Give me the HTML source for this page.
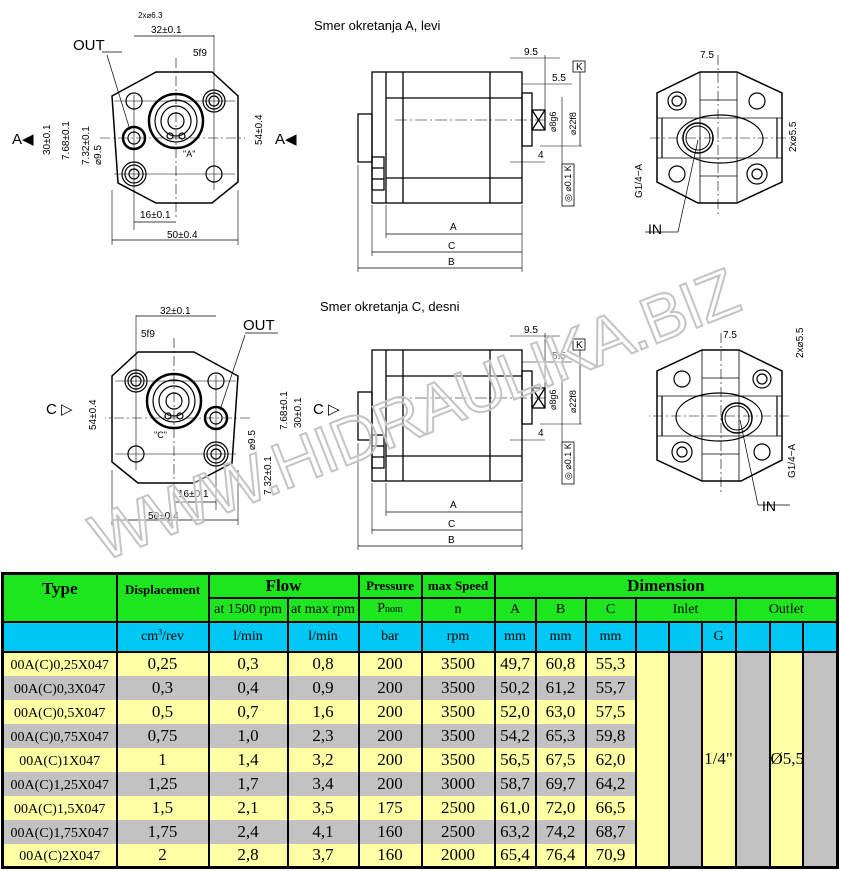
<!DOCTYPE html>
<html><head><meta charset="utf-8"><style>
body{margin:0;width:841px;height:871px;background:#fff;position:relative;overflow:hidden;font-family:"Liberation Serif",serif}
svg{position:absolute;left:0;top:0}
table{position:absolute;left:1px;top:572px;border-collapse:collapse;table-layout:fixed;width:837px;border:3px solid #000}
td{border-left:2px solid #000;border-right:2px solid #000;padding:0;text-align:center;white-space:nowrap;font-size:17px;line-height:20px;vertical-align:middle !important}
.g{background:#1ee61e;border:2px solid #000}
.b{background:#00c8f4;border:2px solid #000;color:#000}
.y{background:#ffffa6}.s{background:#c2c2c2}
.h{font-weight:bold;font-size:17px}
.sm{font-size:13px}
.t{font-size:14px;line-height:20px}
tr.y td.t,tr.s td.t{line-height:16px;padding-top:4px}
</style></head><body>
<svg width="841" height="572" viewBox="0 0 841 572" font-family="Liberation Sans, sans-serif" fill="none" stroke="#000">
<defs>
<g id="front" stroke-width="1.2">
 <polygon points="156,72 212,72 238,96 238,182 212,203 156,203 118,183 112,96" stroke-width="1.5"/>
 <circle cx="134" cy="101" r="8"/>
 <circle cx="214" cy="101" r="11"/><circle cx="214" cy="101" r="8"/><circle cx="214" cy="101" r="5"/>
 <circle cx="134" cy="174" r="12"/><circle cx="134" cy="174" r="9"/><circle cx="134" cy="174" r="5"/>
 <circle cx="214" cy="174" r="8"/>
 <circle cx="176" cy="121" r="27" stroke-width="2.5"/><circle cx="176" cy="121" r="21"/><circle cx="176" cy="121" r="15"/><circle cx="176" cy="121" r="8"/>
 <circle cx="170" cy="136" r="3"/><circle cx="182" cy="136" r="3"/>
 <line x1="176" y1="58" x2="176" y2="220" stroke-width=".6" stroke-dasharray="10 3 2 3"/>
 <line x1="100" y1="138" x2="245" y2="138" stroke-width=".6" stroke-dasharray="10 3 2 3"/>
 <line x1="114" y1="174" x2="235" y2="174" stroke-width=".6"/>
 <line x1="114" y1="101" x2="235" y2="101" stroke-width=".6"/>
 <line x1="134" y1="95" x2="134" y2="230" stroke-width=".6"/>
 <line x1="214" y1="35" x2="214" y2="190" stroke-width=".6"/>
 <line x1="112" y1="190" x2="112" y2="245" stroke-width=".6"/>
 <line x1="238" y1="190" x2="238" y2="245" stroke-width=".6"/>
 <line x1="112" y1="240" x2="238" y2="240" stroke-width=".8"/>
 <line x1="134" y1="222" x2="176" y2="222" stroke-width=".8"/>
 <line x1="134" y1="36" x2="214" y2="36" stroke-width=".8"/>
</g>
<g id="side" stroke-width="1.3">
 <rect x="372" y="72" width="150" height="131"/>
 <line x1="386" y1="72" x2="386" y2="203"/><line x1="403" y1="72" x2="403" y2="203"/><line x1="490" y1="72" x2="490" y2="203"/>
 <line x1="386" y1="98" x2="522" y2="98"/><line x1="386" y1="178" x2="522" y2="178"/>
 <rect x="358" y="114" width="14" height="48"/>
 <rect x="372" y="157" width="12" height="33"/><line x1="372" y1="168" x2="384" y2="168"/><line x1="372" y1="179" x2="384" y2="179"/>
 <rect x="522" y="93" width="10" height="53"/>
 <rect x="532" y="110" width="13" height="20"/><line x1="532" y1="110" x2="545" y2="130"/><line x1="545" y1="110" x2="532" y2="130"/>
 <line x1="395" y1="120" x2="545" y2="120" stroke-width=".6" stroke-dasharray="12 3 2 3"/>
 <line x1="386" y1="205" x2="386" y2="238" stroke-width=".6"/><line x1="372" y1="205" x2="372" y2="256" stroke-width=".6"/>
 <line x1="358" y1="165" x2="358" y2="272" stroke-width=".6"/><line x1="522" y1="205" x2="522" y2="272" stroke-width=".6"/>
 <line x1="386" y1="234" x2="522" y2="234" stroke-width=".7"/><line x1="372" y1="252" x2="522" y2="252" stroke-width=".7"/><line x1="358" y1="268" x2="522" y2="268" stroke-width=".7"/>
 <line x1="510" y1="58" x2="560" y2="58" stroke-width=".6"/><line x1="522" y1="84" x2="572" y2="84" stroke-width=".6"/>
 <line x1="545" y1="55" x2="545" y2="110" stroke-width=".6"/>
 <line x1="580" y1="72" x2="580" y2="146" stroke-width=".7"/><line x1="540" y1="146" x2="582" y2="146" stroke-width=".6"/>
 <line x1="562" y1="97" x2="562" y2="165" stroke-width=".6"/>
 <line x1="510" y1="162" x2="545" y2="162" stroke-width=".6"/>
 <rect x="573" y="61" width="12" height="11" stroke-width=".8"/>
 <rect x="562" y="164" width="12" height="42" stroke-width=".8"/>
</g>
<g id="rear" stroke-width="1.2">
 <polygon points="700,72 737,72 782,93 782,182 737,203 698,203 657,182 657,93" stroke-width="1.5"/>
 <circle cx="677" cy="101" r="9"/><circle cx="677" cy="101" r="5"/>
 <circle cx="757" cy="101" r="8"/>
 <circle cx="677" cy="174" r="8"/>
 <circle cx="757" cy="174" r="10"/><circle cx="757" cy="174" r="5"/>
 <ellipse cx="720" cy="139" rx="43" ry="24"/>
 <line x1="700" y1="72" x2="700" y2="203" stroke-width=".8"/><line x1="737" y1="72" x2="737" y2="203" stroke-width=".8"/>
 <line x1="662" y1="118" x2="662" y2="158"/><line x1="777" y1="118" x2="777" y2="158"/>
 <line x1="657" y1="118" x2="782" y2="118" stroke-width=".8"/><line x1="657" y1="158" x2="782" y2="158" stroke-width=".8"/>
 <line x1="700" y1="100" x2="737" y2="100" stroke-width=".8"/><line x1="700" y1="176" x2="737" y2="176" stroke-width=".8"/>
 <line x1="718" y1="55" x2="718" y2="215" stroke-width=".6" stroke-dasharray="10 3 2 3"/>
 <line x1="650" y1="138" x2="790" y2="138" stroke-width=".6" stroke-dasharray="10 3 2 3"/>
</g>
</defs>
<text x="314" y="30" fill="#000" stroke="none" font-size="13">Smer okretanja A, levi</text>
<text x="320" y="311" fill="#000" stroke="none" font-size="13">Smer okretanja C, desni</text>
<use href="#front"/>
<circle cx="134" cy="138" r="11" stroke-width="2.5"/><circle cx="134" cy="138" r="6" stroke-width="1.2"/>
<line x1="102" y1="52" x2="122" y2="52" stroke-width=".7"/><line x1="107" y1="55" x2="130" y2="130" stroke-width=".7"/>
<g fill="#000" stroke="none" font-size="10">
<text x="73" y="50" font-size="15">OUT</text>
<text x="151" y="33">32±0.1</text><text x="193" y="56">5f9</text><text x="138" y="18" font-size="8">2x⌀6.3</text>
<text x="140" y="218">16±0.1</text><text x="167" y="238">50±0.4</text>
<text x="12" y="144" font-size="15">A◀</text><text x="275" y="144" font-size="15">A◀</text>
<text transform="translate(50,155) rotate(-90)">30±0.1</text>
<text transform="translate(69,160) rotate(-90)">7.68±0.1</text>
<text transform="translate(89,165) rotate(-90)">7.32±0.1</text>
<text transform="translate(101,165) rotate(-90)">⌀9.5</text>
<text transform="translate(262,145) rotate(-90)">54±0.4</text>
<text x="183" y="157" font-size="9">"A"</text>
</g>
<g transform="translate(0,280)"><use href="#front" transform="translate(350,0) scale(-1,1)"/></g>
<circle cx="216" cy="418" r="11" stroke-width="2.5"/><circle cx="216" cy="418" r="6" stroke-width="1.2"/>
<line x1="245" y1="333" x2="278" y2="333" stroke-width=".7"/><line x1="245" y1="335" x2="220" y2="410" stroke-width=".7"/>
<g fill="#000" stroke="none" font-size="10">
<text x="243" y="330" font-size="15">OUT</text>
<text x="160" y="314">32±0.1</text><text x="141" y="337">5f9</text>
<text x="178" y="497">16±0.1</text><text x="148" y="519">50±0.4</text>
<text x="46" y="414" font-size="15">C ▷</text><text x="313" y="414" font-size="15">C ▷</text>
<text transform="translate(96,430) rotate(-90)">54±0.4</text>
<text transform="translate(301,428) rotate(-90)">30±0.1</text>
<text transform="translate(287,430) rotate(-90)">7.68±0.1</text>
<text transform="translate(271,495) rotate(-90)">7.32±0.1</text>
<text transform="translate(255,450) rotate(-90)">⌀9.5</text>
<text x="154" y="438" font-size="9">"C"</text>
</g>
<use href="#side"/>
<use href="#side" transform="translate(0,278)"/>
<g fill="#000" stroke="none" font-size="10">
<text x="450" y="230">A</text><text x="448" y="249">C</text><text x="448" y="265">B</text>
<text x="524" y="55">9.5</text><text x="552" y="81">5.5</text><text x="538" y="158">4</text><text x="576" y="70">K</text>
<text transform="translate(556,132) rotate(-90)" font-size="9">⌀8g6</text>
<text transform="translate(576,135) rotate(-90)" font-size="9">⌀22f8</text>
<text transform="translate(571,202) rotate(-90)" font-size="9">◎ ⌀0.1 K</text>
<text x="450" y="508">A</text><text x="448" y="527">C</text><text x="448" y="543">B</text>
<text x="524" y="333">9.5</text><text x="552" y="359">5.5</text><text x="538" y="436">4</text><text x="576" y="348">K</text>
<text transform="translate(556,410) rotate(-90)" font-size="9">⌀8g6</text>
<text transform="translate(576,413) rotate(-90)" font-size="9">⌀22f8</text>
<text transform="translate(571,480) rotate(-90)" font-size="9">◎ ⌀0.1 K</text>
</g>
<use href="#rear"/>
<circle cx="698" cy="138" r="15" stroke-width="1.5"/><circle cx="698" cy="138" r="12"/>
<line x1="698" y1="140" x2="678" y2="232" stroke-width=".7"/><line x1="645" y1="232" x2="678" y2="232" stroke-width=".7"/>
<g transform="translate(0,278)"><use href="#rear" transform="translate(1439,0) scale(-1,1)"/></g>
<circle cx="737" cy="418" r="15" stroke-width="1.5"/><circle cx="737" cy="418" r="12"/>
<line x1="740" y1="420" x2="758" y2="505" stroke-width=".7"/><line x1="758" y1="505" x2="790" y2="505" stroke-width=".7"/>
<g fill="#000" stroke="none" font-size="10">
<text x="700" y="58">7.5</text><text x="648" y="234" font-size="14">IN</text>
<text transform="translate(642,198) rotate(-90)">G1/4−A</text>
<text transform="translate(796,152) rotate(-90)">2x⌀5.5</text>
<text x="723" y="338">7.5</text><text x="762" y="511" font-size="14">IN</text>
<text transform="translate(795,478) rotate(-90)">G1/4−A</text>
<text transform="translate(803,358) rotate(-90)">2x⌀5.5</text>
</g>
<text x="0" y="0" transform="translate(102,562) rotate(-21.5)" font-size="66" fill="rgba(255,255,255,0.4)" stroke="#c4c4c4" stroke-width="2" textLength="690">WWW.HIDRAULIKA.BIZ</text>
</svg>
<table>
<colgroup><col style="width:114px"><col style="width:92px"><col style="width:79px"><col style="width:71px"><col style="width:63px"><col style="width:73px"><col style="width:41px"><col style="width:50px"><col style="width:50px"><col style="width:33px"><col style="width:33px"><col style="width:34px"><col style="width:34px"><col style="width:33px"><col style="width:35px"></colgroup>
<tr style="height:24px"><td class="g h" rowspan="2" style="vertical-align:top !important;padding-top:4px">Type</td><td class="g sm" rowspan="2" style="font-weight:bold;vertical-align:top !important;padding-top:5px">Displacement</td><td class="g h" colspan="2">Flow</td><td class="g sm" style="font-weight:bold">Pressure</td><td class="g sm" style="font-weight:bold">max Speed</td><td class="g h" colspan="9">Dimension</td></tr>
<tr style="height:24px"><td class="g t">at 1500 rpm</td><td class="g t">at max rpm</td><td class="g t">P<span style="font-size:10px">nom</span></td><td class="g t">n</td><td class="g t">A</td><td class="g t">B</td><td class="g t">C</td><td class="g t" colspan="3">Inlet</td><td class="g t" colspan="3">Outlet</td></tr>
<tr style="height:30px"><td class="b"></td><td class="b t">cm<sup style="font-size:8px;line-height:0">3</sup>/rev</td><td class="b t">l/min</td><td class="b t">l/min</td><td class="b t">bar</td><td class="b t">rpm</td><td class="b t">mm</td><td class="b t">mm</td><td class="b t">mm</td><td class="b"></td><td class="b"></td><td class="b t">G</td><td class="b"></td><td class="b"></td><td class="b"></td></tr>
<tr style="height:24px" class="y"><td class="t">00A(C)0,25X047</td><td>0,25</td><td>0,3</td><td>0,8</td><td>200</td><td>3500</td><td>49,7</td><td>60,8</td><td>55,3</td><td rowspan="9" class="y"></td><td rowspan="9" class="s"></td><td rowspan="9" class="y">1/4"</td><td rowspan="9" class="s"></td><td rowspan="9" class="y">Ø5,5</td><td rowspan="9" class="s"></td></tr>
<tr style="height:24px" class="s"><td class="t">00A(C)0,3X047</td><td>0,3</td><td>0,4</td><td>0,9</td><td>200</td><td>3500</td><td>50,2</td><td>61,2</td><td>55,7</td></tr>
<tr style="height:24px" class="y"><td class="t">00A(C)0,5X047</td><td>0,5</td><td>0,7</td><td>1,6</td><td>200</td><td>3500</td><td>52,0</td><td>63,0</td><td>57,5</td></tr>
<tr style="height:24px" class="s"><td class="t">00A(C)0,75X047</td><td>0,75</td><td>1,0</td><td>2,3</td><td>200</td><td>3500</td><td>54,2</td><td>65,3</td><td>59,8</td></tr>
<tr style="height:24px" class="y"><td class="t">00A(C)1X047</td><td>1</td><td>1,4</td><td>3,2</td><td>200</td><td>3500</td><td>56,5</td><td>67,5</td><td>62,0</td></tr>
<tr style="height:24px" class="s"><td class="t">00A(C)1,25X047</td><td>1,25</td><td>1,7</td><td>3,4</td><td>200</td><td>3000</td><td>58,7</td><td>69,7</td><td>64,2</td></tr>
<tr style="height:24px" class="y"><td class="t">00A(C)1,5X047</td><td>1,5</td><td>2,1</td><td>3,5</td><td>175</td><td>2500</td><td>61,0</td><td>72,0</td><td>66,5</td></tr>
<tr style="height:24px" class="s"><td class="t">00A(C)1,75X047</td><td>1,75</td><td>2,4</td><td>4,1</td><td>160</td><td>2500</td><td>63,2</td><td>74,2</td><td>68,7</td></tr>
<tr style="height:24px" class="y"><td class="t">00A(C)2X047</td><td>2</td><td>2,8</td><td>3,7</td><td>160</td><td>2000</td><td>65,4</td><td>76,4</td><td>70,9</td></tr>
</table>
</body></html>
